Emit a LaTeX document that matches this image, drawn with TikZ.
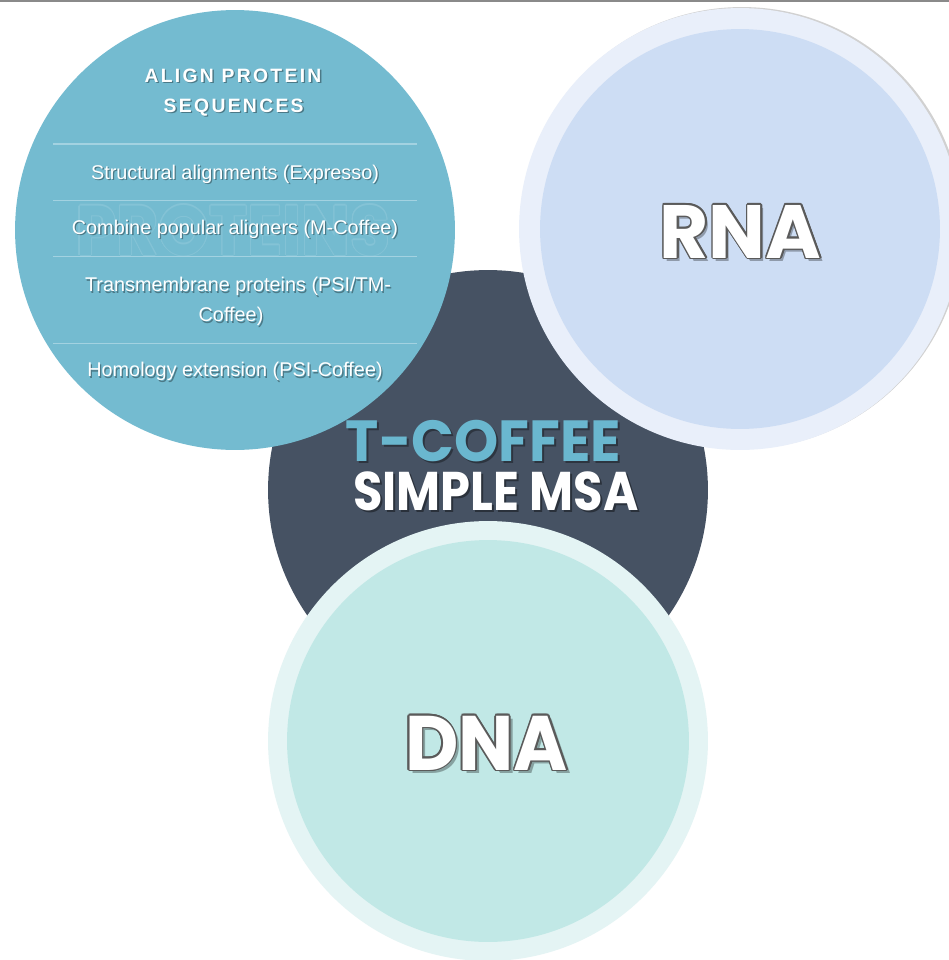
\documentclass[tikz,border=0pt]{standalone}
\usepackage{fontspec}
\usetikzlibrary{calc}
\setmainfont{Liberation Sans}
\newfontfamily\geofont{Poppins}
\newfontfamily\headfont{Liberation Sans}[LetterSpace=12]

\definecolor{protblue}{HTML}{74BBD0}
\definecolor{markblue}{HTML}{84C3D6}
\definecolor{ruleblue}{HTML}{A3D2E1}
\definecolor{coregray}{HTML}{465263}
\definecolor{titleblue}{HTML}{6AB7CF}
\definecolor{rnaring}{HTML}{E9EFFA}
\definecolor{rnafill}{HTML}{CDDDF4}
\definecolor{dnaring}{HTML}{E4F4F4}
\definecolor{dnafill}{HTML}{C1E8E6}
\definecolor{topgray}{HTML}{8A8A8A}
\definecolor{edgegray}{HTML}{5A5A5A}

\begin{document}
\begin{tikzpicture}[x=0.02cm, y=-0.02cm,
  disc/.style={circle, inner sep=0pt, outer sep=0pt, minimum size=#1},
  item/.style={text=white, font=\fontsize{11.3}{17}\selectfont, anchor=base, inner sep=0pt},
  head/.style={text=white, font=\headfont\bfseries\fontsize{11}{14}\selectfont, anchor=base, inner sep=0pt},
  big/.style={font=\geofont\bfseries\fontsize{#1}{#1}\selectfont, anchor=base, inner sep=0pt},
  rule/.style={draw=ruleblue, line width=0.6pt}]

\newcommand{\shadowed}[4]{%
  \node[#4, text=black, opacity=0.35] (#1s) at ($(#2)+(1.3,1.3)$) {#3};
  \node[#4] (#1) at (#2) {#3};}
\newcommand{\outlined}[7]{%
  \foreach \a in {0,30,...,330}
    \node[#4, text=#5] (#1\a) at ($(#2)+(\a:#7)$) {#3};
  \node[#4, text=#6] (#1) at (#2) {#3};}

\useasboundingbox (0,0) rectangle (949,960);
\fill[white] (0,0) rectangle (949,960);
\draw[draw=topgray, line width=1.2pt] (0,1) -- (949,1);

\node[disc=8.8cm, fill=coregray] (core) at (488,490) {};
\node[disc=8.8cm, fill=protblue] (prot) at (235,230) {};
\node[disc=8.84cm, fill=black!18] (rnashade) at (742,228) {};
\node[disc=8.84cm, fill=rnaring] (rna) at (740,229) {};
\node[disc=8cm, fill=rnafill] (rnain) at (rna) {};
\node[disc=8.8cm, fill=dnaring] (dna) at (488,741) {};
\node[disc=8.04cm, fill=dnafill] (dnain) at (dna) {};

\outlined{mark}{233,255}{PROTEINS}{big=40, xscale=0.92}{markblue}{protblue}{1.1}

\foreach \y in {144,200.5,256.5,343.5}
  \draw[rule] (53,\y) -- (417,\y);

\shadowed{h1}{233,82.3}{ALIGN PROTEIN}{head}
\shadowed{h2}{233.7,112.3}{SEQUENCES}{head}
\shadowed{i1}{235,179.3}{Structural alignments (Expresso)}{item}
\shadowed{i2}{235,234.3}{Combine popular aligners (M-Coffee)}{item}
\shadowed{i3}{238,291.7}{Transmembrane proteins (PSI/TM-}{item}
\shadowed{i4}{231,321.7}{Coffee)}{item}
\shadowed{i5}{235,376.7}{Homology extension (PSI-Coffee)}{item}

\node[big=33, xscale=0.97, text=black, opacity=0.35] (t1s) at (485.5,463.5) {T-COFFEE};
\node[big=33, xscale=0.97, text=titleblue] (t1) at (483.5,461.5) {T-COFFEE};
\node[big=31, xscale=0.88, text=black, opacity=0.4] (t2s) at (498,512) {SIMPLE MSA};
\node[big=31, xscale=0.88, text=white] (t2) at (496,510) {SIMPLE MSA};

\node[big=43, text=black, opacity=0.3] (rnas) at (743.5,261.5) {RNA};
\outlined{rnat}{740.5,258}{RNA}{big=43}{edgegray}{white}{1.6}
\node[big=44, xscale=0.95, text=black, opacity=0.3] (dnas) at (490,773.5) {DNA};
\outlined{dnat}{486.5,770}{DNA}{big=44, xscale=0.95}{edgegray}{white}{1.6}
\end{tikzpicture}
\end{document}
